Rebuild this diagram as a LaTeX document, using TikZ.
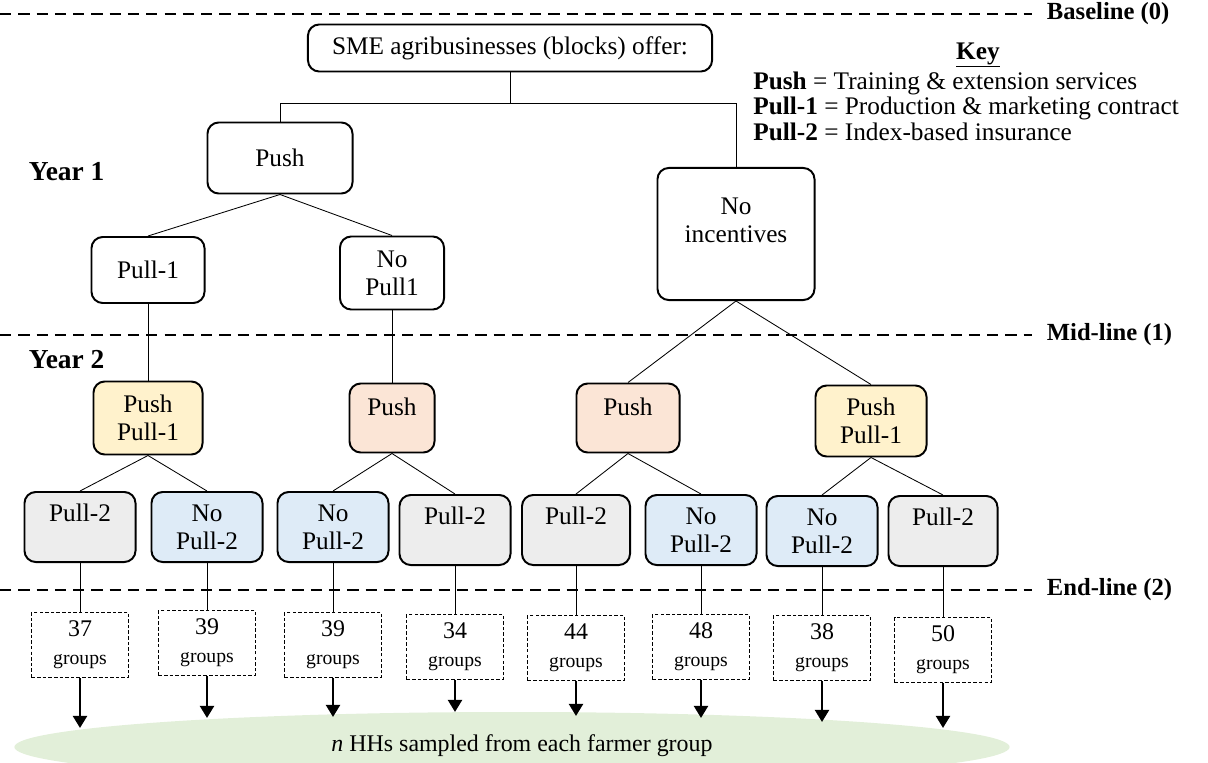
\documentclass[tikz,border=0pt]{standalone}
\usepackage{fontspec}
\setmainfont{Liberation Serif}
\usetikzlibrary{arrows.meta,shapes.geometric}
\definecolor{pushpull}{HTML}{FFF2CC}
\definecolor{pushonly}{HTML}{FBE5D6}
\definecolor{pulltwo}{HTML}{EDEDED}
\definecolor{nopulltwo}{HTML}{DEEBF7}
\definecolor{sample}{HTML}{E2EFD9}
\begin{document}
\begin{tikzpicture}[x=0.025cm,y=-0.025cm,
  box/.style={draw,line width=1.4pt,rounded corners=8pt,align=center,inner sep=0pt,font=\fontsize{18}{20}\selectfont},
  leaf/.style={box,minimum width=2.775cm,minimum height=1.75cm},
  grp/.style={draw,dash pattern=on 2.5pt off 1.5pt,line width=0.6pt,align=center,inner sep=0pt,minimum width=2.425cm,minimum height=1.625cm,font=\fontsize{17}{20}\selectfont},
  lbl/.style={anchor=west,font=\bfseries\fontsize{17.5}{20}\selectfont},
  keyline/.style={anchor=west,inner sep=0pt,font=\fontsize{18}{20}\selectfont},
  stage/.style={line width=1.3pt,dash pattern=on 8pt off 5pt},
  link/.style={line width=0.6pt},
  drop/.style={line width=1.3pt,-{Triangle[length=8.5pt,width=10pt]}}]
\useasboundingbox (0,0) rectangle (1208,762);
% stages
\draw[stage] (0,14) -- (1032,14);
\draw[stage] (0,335) -- (1032,335);
\draw[stage] (0,590) -- (1032,590);
\node[lbl] (base) at (1042,14) {Baseline (0)};
\node[lbl] (mid) at (1042,335) {Mid-line (1)};
\node[lbl] (end) at (1042,590) {End-line (2)};
\node[lbl,font=\bfseries\fontsize{19.5}{22}\selectfont] (yr1) at (24,172) {Year 1};
\node[lbl,font=\bfseries\fontsize{19.5}{22}\selectfont] (yr2) at (24,360) {Year 2};
% key
\node[font=\bfseries\fontsize{18}{20}\selectfont] (key) at (978,55) {\underline{Key}};
\node[keyline] (k1) at (753,83) {\textbf{Push} = Training \& extension services};
\node[keyline] (k2) at (753,108) {\textbf{Pull-1} = Production \& marketing contract};
\node[keyline] (k3) at (753,132) {\textbf{Pull-2} = Index-based insurance};
% year 1
\node[box,minimum width=10.1cm,minimum height=1.175cm] (sme) at (510,48) {SME agribusinesses (blocks) offer:};
\node[box,minimum width=3.625cm,minimum height=1.775cm] (push) at (280,158) {Push};
\node[box,minimum width=3.925cm,minimum height=3.3cm] (noinc) at (736,234) {No\\incentives\\~};
\node[box,minimum width=2.825cm,minimum height=1.65cm] (pull1) at (148,270) {Pull-1};
\node[box,minimum width=2.6cm,minimum height=1.825cm] (nopull1) at (392,273) {No\\Pull1};
\coordinate (fork) at (510,103);
% year 2
\node[box,fill=pushpull,minimum width=2.725cm,minimum height=1.825cm] (y1) at (148,418) {Push\\Pull-1};
\node[box,fill=pushonly,minimum width=2.125cm,minimum height=1.725cm] (s1) at (392,418) {Push\\[-4pt]~};
\node[box,fill=pushonly,minimum width=2.575cm,minimum height=1.725cm] (s2) at (628,418) {Push\\[-4pt]~};
\node[box,fill=pushpull,minimum width=2.775cm,minimum height=1.775cm] (y2) at (871,421) {Push\\Pull-1};
\node[leaf,fill=pulltwo] (a1) at (80,527) {Pull-2\\~};
\node[leaf,fill=nopulltwo] (a2) at (207,527) {No\\Pull-2};
\node[leaf,fill=nopulltwo] (a3) at (333,527) {No\\Pull-2};
\node[leaf,fill=pulltwo] (a4) at (455,530) {Pull-2\\~};
\node[leaf,fill=pulltwo,minimum width=2.7cm] (a5) at (576,530) {Pull-2\\~};
\node[leaf,fill=nopulltwo] (a6) at (701,530) {No\\Pull-2};
\node[leaf,fill=nopulltwo] (a7) at (822,531) {No\\Pull-2};
\node[leaf,fill=pulltwo,minimum width=2.725cm] (a8) at (943,531) {Pull-2\\~};
% end-line groups
\node[grp] (g1) at (80,645) {37\\{\fontsize{14}{16}\selectfont groups}};
\node[grp] (g2) at (207,643) {39\\{\fontsize{14}{16}\selectfont groups}};
\node[grp] (g3) at (333,645) {39\\{\fontsize{14}{16}\selectfont groups}};
\node[grp] (g4) at (455,647) {34\\{\fontsize{14}{16}\selectfont groups}};
\node[grp] (g5) at (576,648) {44\\{\fontsize{14}{16}\selectfont groups}};
\node[grp] (g6) at (701,647) {48\\{\fontsize{14}{16}\selectfont groups}};
\node[grp] (g7) at (822,648) {38\\{\fontsize{14}{16}\selectfont groups}};
\node[grp] (g8) at (943,650) {50\\{\fontsize{14}{16}\selectfont groups}};
\node[ellipse,fill=sample,inner sep=0pt,minimum width=24.875cm,minimum height=1.75cm,font=\fontsize{17}{20}\selectfont] (ell) at (512,747) {};
\node[font=\fontsize{17}{20}\selectfont] (elltext) at (522,746) {\textit{n} HHs sampled from each farmer group};
% links
\draw[link] (sme) -- (fork);
\draw[link] (fork) -| (push);
\draw[link] (fork) -| (noinc);
\draw[link] (pull1.north) -- (push.south) -- (nopull1.north);
\draw[link] (pull1) -- (y1);
\draw[link] (nopull1) -- (s1);
\draw[link] (s2.north) -- (noinc.south) -- (y2.north);
\draw[link] (a1.north) -- (y1.south) -- (a2.north);
\draw[link] (a3.north) -- (s1.south) -- (a4.north);
\draw[link] (a5.north) -- (s2.south) -- (a6.north);
\draw[link] (a7.north) -- (y2.south) -- (a8.north);
\draw[link] (a1) -- (g1);
\draw[link] (a2) -- (g2);
\draw[link] (a3) -- (g3);
\draw[link] (a4) -- (g4);
\draw[link] (a5) -- (g5);
\draw[link] (a6) -- (g6);
\draw[link] (a7) -- (g7);
\draw[link] (a8) -- (g8);
% samples
\draw[drop] (g1.south) -- ++(0,50);
\draw[drop] (g2.south) -- ++(0,42);
\draw[drop] (g3.south) -- ++(0,39);
\draw[drop] (g4.south) -- ++(0,32);
\draw[drop] (g5.south) -- ++(0,35);
\draw[drop] (g6.south) -- ++(0,38);
\draw[drop] (g7.south) -- ++(0,41);
\draw[drop] (g8.south) -- ++(0,45);
\end{tikzpicture}
\end{document}
